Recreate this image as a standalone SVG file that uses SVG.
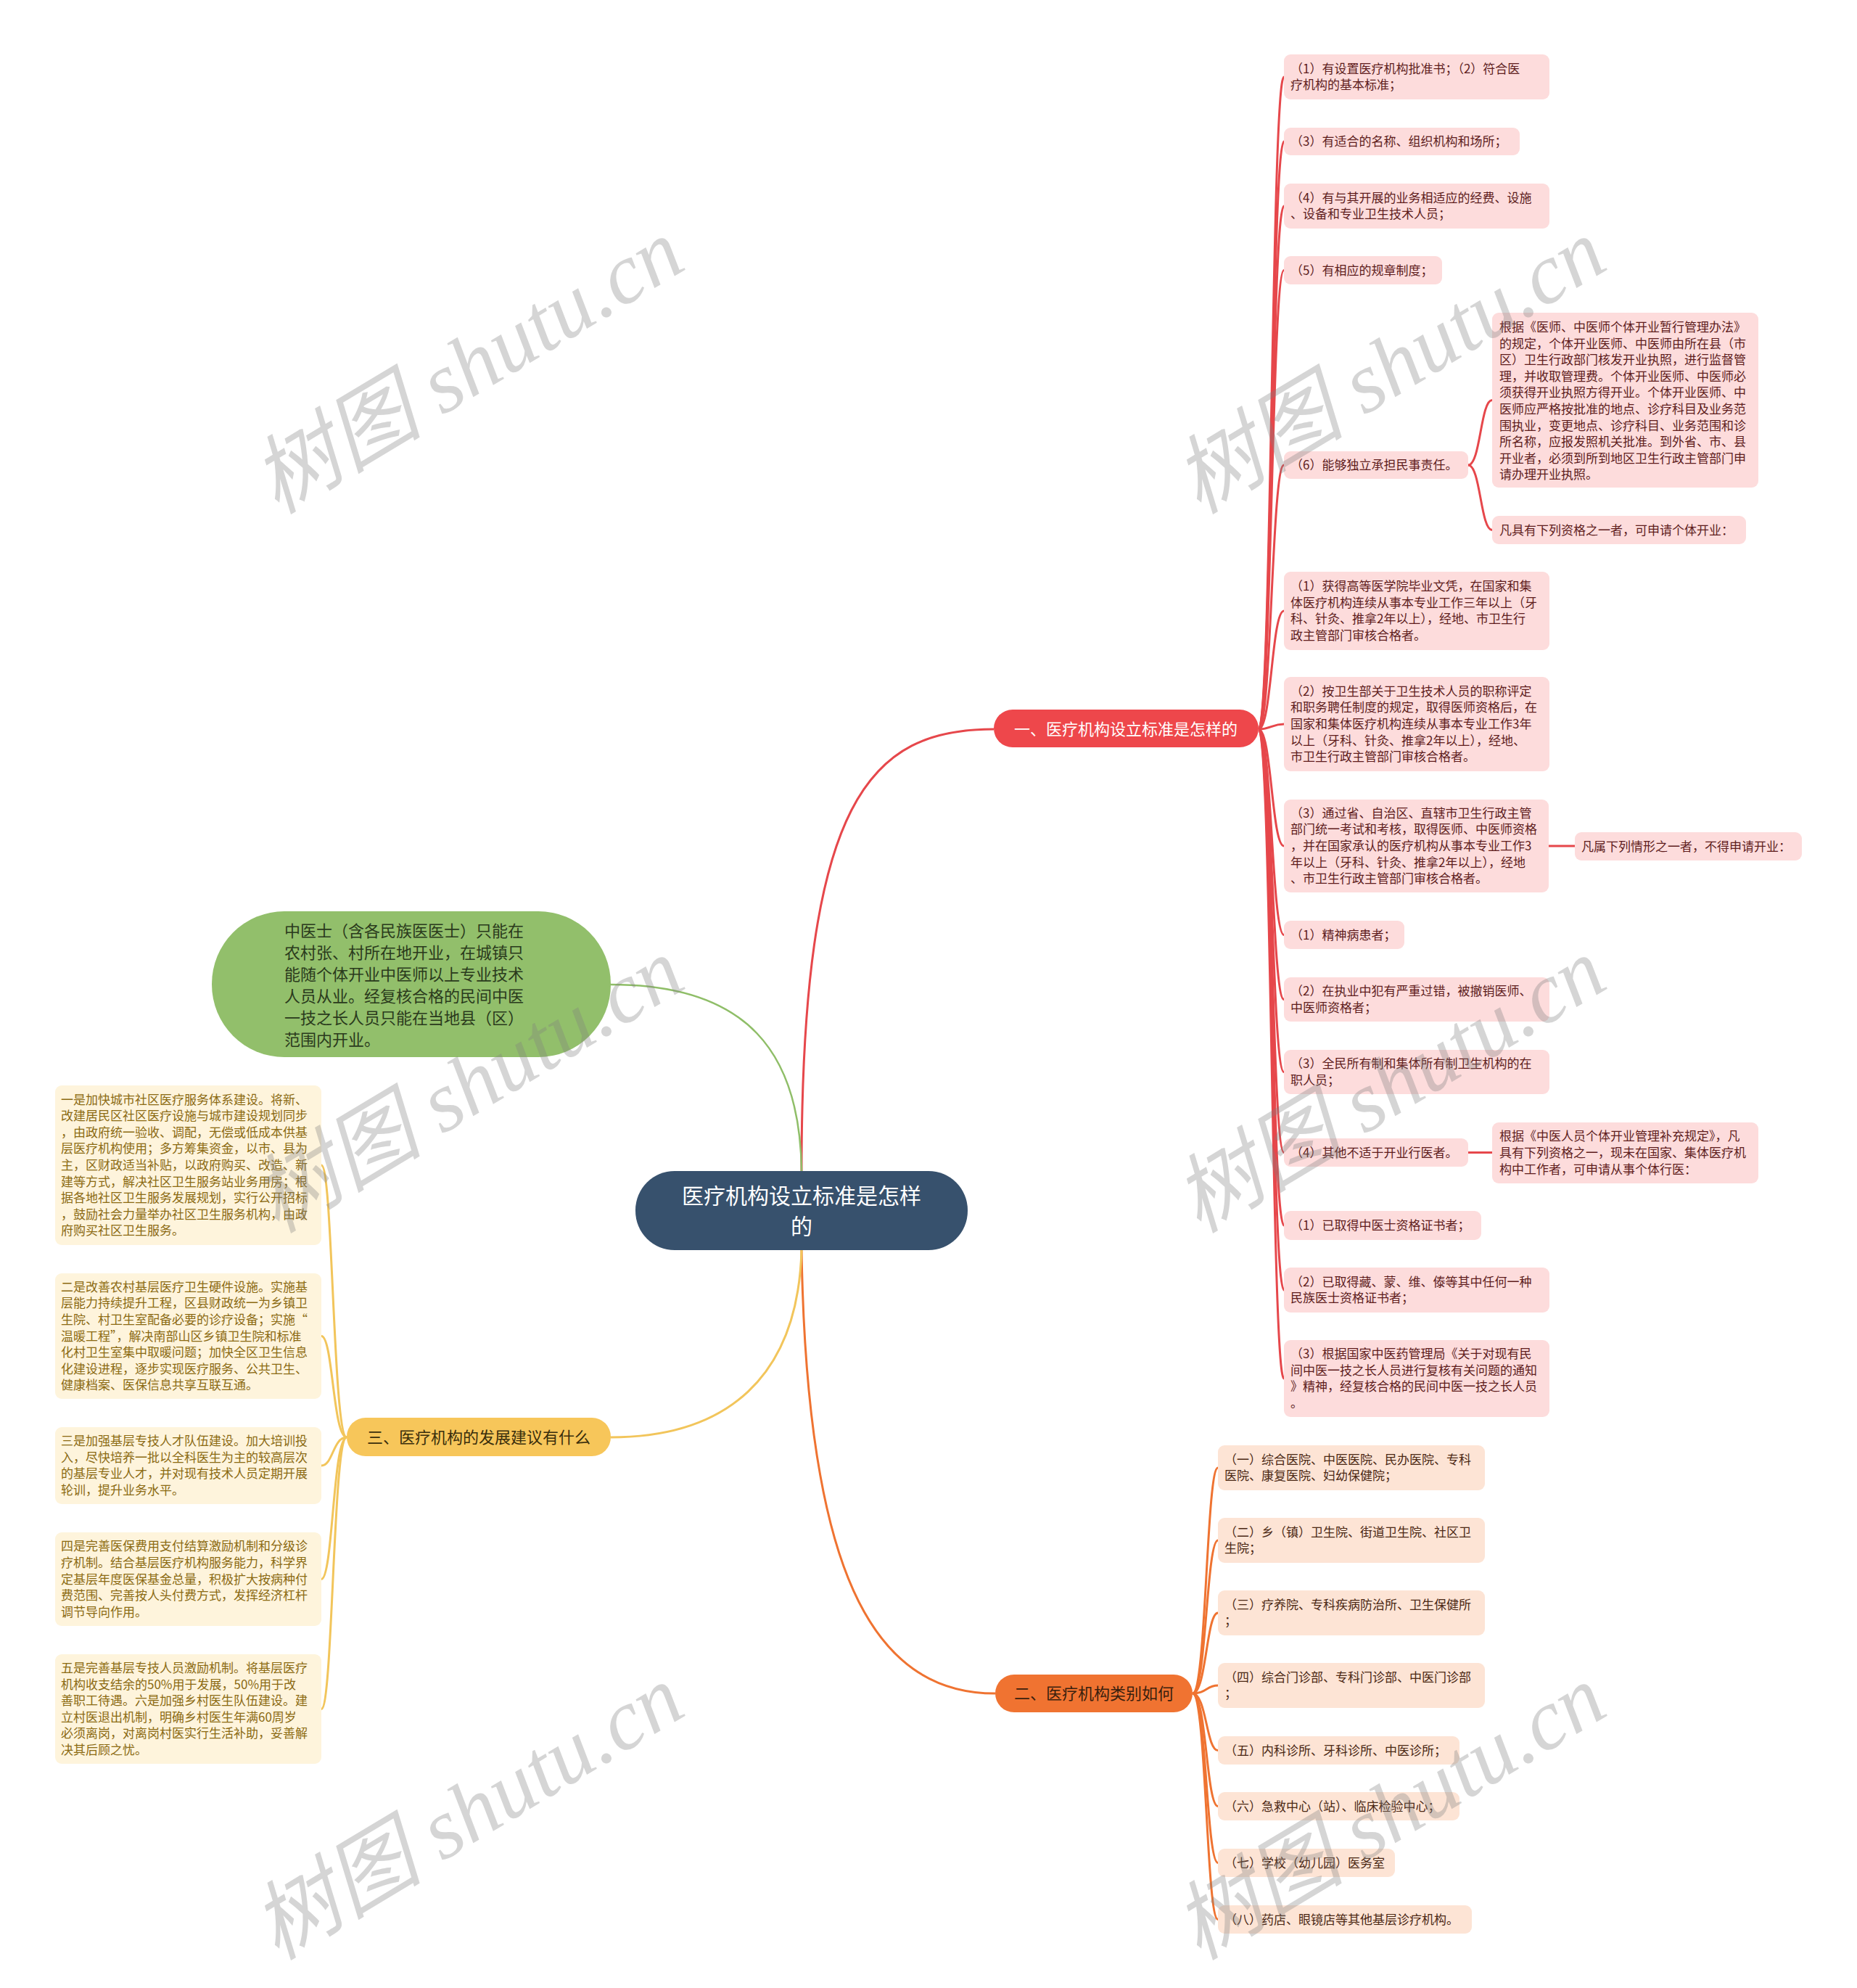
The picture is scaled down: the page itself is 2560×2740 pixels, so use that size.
<svg xmlns="http://www.w3.org/2000/svg" width="2560" height="2740" viewBox="0 0 2560 2740">
<style>
text{font-family:"Noto Sans CJK SC","Noto Sans",sans-serif}
.red rect{fill:#fddcdc}
.red text{fill:#5e1c1c;font-size:17px}
.org rect{fill:#fde4d5}
.org text{fill:#4b2814;font-size:17px}
.yel rect{fill:#fef4dc}
.yel text{fill:#8b6a12;font-size:17px}
.cr{fill:none;stroke:#e6474b;stroke-width:3}
.co{fill:none;stroke:#ef7331;stroke-width:3}
.cy{fill:none;stroke:#f2c55b;stroke-width:3}
.cg{fill:none;stroke:#8fbe68;stroke-width:2.5}
.wm{font-family:"Liberation Serif","Noto Sans CJK SC",serif;font-style:italic;font-size:118px;fill:#808080;fill-opacity:0.33}
</style>
<rect width="2560" height="2740" fill="#ffffff"/>

<g id="connectors">
  <path class="cr" d="M1105,1614 C1105,1100 1200,1005 1370,1005"/>
  <path class="cg" d="M842,1357 C1030,1357 1103,1450 1105,1614"/>
  <path class="co" d="M1105,1723 C1112,2160 1200,2334 1372,2334"/>
  <path class="cy" d="M842,1981 C1000,1981 1100,1900 1105,1723"/>
  <path class="cr" d="M1735,1005 C1753,1005 1753,106 1770,106"/>
  <path class="cr" d="M1735,1005 C1753,1005 1753,195 1770,195"/>
  <path class="cr" d="M1735,1005 C1753,1005 1753,284 1770,284"/>
  <path class="cr" d="M1735,1005 C1753,1005 1753,372.5 1770,372.5"/>
  <path class="cr" d="M1735,1005 C1753,1005 1753,641 1770,641"/>
  <path class="cr" d="M1735,1005 C1753,1005 1753,842 1770,842"/>
  <path class="cr" d="M1735,1005 C1753,1005 1753,998 1770,998"/>
  <path class="cr" d="M1735,1005 C1753,1005 1753,1166 1770,1166"/>
  <path class="cr" d="M1735,1005 C1753,1005 1753,1288.5 1770,1288.5"/>
  <path class="cr" d="M1735,1005 C1753,1005 1753,1377.5 1770,1377.5"/>
  <path class="cr" d="M1735,1005 C1753,1005 1753,1477.5 1770,1477.5"/>
  <path class="cr" d="M1735,1005 C1753,1005 1753,1588.5 1770,1588.5"/>
  <path class="cr" d="M1735,1005 C1753,1005 1753,1689 1770,1689"/>
  <path class="cr" d="M1735,1005 C1753,1005 1753,1778 1770,1778"/>
  <path class="cr" d="M1735,1005 C1753,1005 1753,1900 1770,1900"/>
  <path class="cr" d="M2024,641 C2041,641 2041,551.5 2057,551.5"/>
  <path class="cr" d="M2024,641 C2041,641 2041,730.5 2057,730.5"/>
  <path class="cr" d="M2135,1166 L2171,1166"/>
  <path class="cr" d="M2024,1588.5 L2057,1588.5"/>
  <path class="co" d="M1644,2334 C1663,2334 1663,2023 1679,2023"/>
  <path class="co" d="M1644,2334 C1663,2334 1663,2123 1679,2123"/>
  <path class="co" d="M1644,2334 C1663,2334 1663,2223 1679,2223"/>
  <path class="co" d="M1644,2334 C1663,2334 1663,2323 1679,2323"/>
  <path class="co" d="M1644,2334 C1663,2334 1663,2412.5 1679,2412.5"/>
  <path class="co" d="M1644,2334 C1663,2334 1663,2489.5 1679,2489.5"/>
  <path class="co" d="M1644,2334 C1663,2334 1663,2567.5 1679,2567.5"/>
  <path class="co" d="M1644,2334 C1663,2334 1663,2645.5 1679,2645.5"/>
  <path class="cy" d="M478,1981 C459,1981 459,1606 443,1606"/>
  <path class="cy" d="M478,1981 C459,1981 459,1841.5 443,1841.5"/>
  <path class="cy" d="M478,1981 C459,1981 459,2020 443,2020"/>
  <path class="cy" d="M478,1981 C459,1981 459,2176.5 443,2176.5"/>
  <path class="cy" d="M478,1981 C459,1981 459,2355.5 443,2355.5"/>
</g>

<g id="root">
  <rect x="876" y="1614" width="458" height="109" rx="54" fill="#37516d"/>
  <text x="1105" y="1659" text-anchor="middle" font-size="30" fill="#ffffff">医疗机构设立标准是怎样</text>
  <text x="1105" y="1701" text-anchor="middle" font-size="30" fill="#ffffff">的</text>
</g>

<g id="green-node">
  <rect x="292" y="1256" width="550" height="201" rx="100" fill="#92bf6b"/>
  <text font-size="22" fill="#2a3a1c">
    <tspan x="392" y="1291">中医士（含各民族医医士）只能在</tspan>
    <tspan x="392" dy="30">农村张、村所在地开业，在城镇只</tspan>
    <tspan x="392" dy="30">能随个体开业中医师以上专业技术</tspan>
    <tspan x="392" dy="30">人员从业。经复核合格的民间中医</tspan>
    <tspan x="392" dy="30">一技之长人员只能在当地县（区）</tspan>
    <tspan x="392" dy="30">范围内开业。</tspan>
  </text>
</g>

<g id="branch1">
  <rect x="1370" y="978" width="365" height="52" rx="26" fill="#ee474b"/>
  <text x="1552" y="1013" text-anchor="middle" font-size="22" fill="#ffffff">一、医疗机构设立标准是怎样的</text>
</g>

<g id="branch2">
  <rect x="1372" y="2308" width="272" height="52" rx="26" fill="#f07331"/>
  <text x="1508" y="2342" text-anchor="middle" font-size="22" fill="#3a1f0e">二、医疗机构类别如何</text>
</g>

<g id="branch3">
  <rect x="478" y="1954" width="364" height="53" rx="26" fill="#f7c65a"/>
  <text x="660" y="1989" text-anchor="middle" font-size="22" fill="#3a2e0c">三、医疗机构的发展建议有什么</text>
</g>

<g id="r1" class="red"><rect x="1770" y="75" width="366" height="62" rx="9"/>
  <text><tspan x="1779" y="100.7">（1）有设置医疗机构批准书；（2）符合医</tspan><tspan x="1779" dy="22.6">疗机构的基本标准；</tspan></text></g>
<g id="r2" class="red"><rect x="1770" y="176" width="325" height="38" rx="9"/>
  <text x="1779" y="201">（3）有适合的名称、组织机构和场所；</text></g>
<g id="r3" class="red"><rect x="1770" y="253" width="366" height="62" rx="9"/>
  <text><tspan x="1779" y="278.7">（4）有与其开展的业务相适应的经费、设施</tspan><tspan x="1779" dy="22.6">、设备和专业卫生技术人员；</tspan></text></g>
<g id="r4" class="red"><rect x="1770" y="353" width="218" height="39" rx="9"/>
  <text x="1779" y="378.5">（5）有相应的规章制度；</text></g>
<g id="r5" class="red"><rect x="1770" y="622" width="254" height="38" rx="9"/>
  <text x="1779" y="647">（6）能够独立承担民事责任。</text></g>
<g id="r5a" class="red"><rect x="2057" y="431" width="367" height="241" rx="9"/>
  <text><tspan x="2067" y="457">根据《医师、中医师个体开业暂行管理办法》</tspan><tspan x="2067" dy="22.6">的规定，个体开业医师、中医师由所在县（市</tspan><tspan x="2067" dy="22.6">区）卫生行政部门核发开业执照，进行监督管</tspan><tspan x="2067" dy="22.6">理，并收取管理费。个体开业医师、中医师必</tspan><tspan x="2067" dy="22.6">须获得开业执照方得开业。个体开业医师、中</tspan><tspan x="2067" dy="22.6">医师应严格按批准的地点、诊疗科目及业务范</tspan><tspan x="2067" dy="22.6">围执业，变更地点、诊疗科目、业务范围和诊</tspan><tspan x="2067" dy="22.6">所名称，应报发照机关批准。到外省、市、县</tspan><tspan x="2067" dy="22.6">开业者，必须到所到地区卫生行政主管部门申</tspan><tspan x="2067" dy="22.6">请办理开业执照。</tspan></text></g>
<g id="r5b" class="red"><rect x="2057" y="711" width="350" height="39" rx="9"/>
  <text x="2067" y="736.5">凡具有下列资格之一者，可申请个体开业：</text></g>
<g id="r6" class="red"><rect x="1770" y="788" width="366" height="108" rx="9"/>
  <text><tspan x="1779" y="814.1">（1）获得高等医学院毕业文凭，在国家和集</tspan><tspan x="1779" dy="22.6">体医疗机构连续从事本专业工作三年以上（牙</tspan><tspan x="1779" dy="22.6">科、针灸、推拿2年以上），经地、市卫生行</tspan><tspan x="1779" dy="22.6">政主管部门审核合格者。</tspan></text></g>
<g id="r7" class="red"><rect x="1770" y="933" width="366" height="130" rx="9"/>
  <text><tspan x="1779" y="958.8">（2）按卫生部关于卫生技术人员的职称评定</tspan><tspan x="1779" dy="22.6">和职务聘任制度的规定，取得医师资格后，在</tspan><tspan x="1779" dy="22.6">国家和集体医疗机构连续从事本专业工作3年</tspan><tspan x="1779" dy="22.6">以上（牙科、针灸、推拿2年以上），经地、</tspan><tspan x="1779" dy="22.6">市卫生行政主管部门审核合格者。</tspan></text></g>
<g id="r8" class="red"><rect x="1770" y="1102" width="365" height="128" rx="9"/>
  <text><tspan x="1779" y="1126.8">（3）通过省、自治区、直辖市卫生行政主管</tspan><tspan x="1779" dy="22.6">部门统一考试和考核，取得医师、中医师资格</tspan><tspan x="1779" dy="22.6">，并在国家承认的医疗机构从事本专业工作3</tspan><tspan x="1779" dy="22.6">年以上（牙科、针灸、推拿2年以上），经地</tspan><tspan x="1779" dy="22.6">、市卫生行政主管部门审核合格者。</tspan></text></g>
<g id="r8a" class="red"><rect x="2171" y="1147" width="313" height="39" rx="9"/>
  <text x="2180" y="1172.5">凡属下列情形之一者，不得申请开业：</text></g>
<g id="r9" class="red"><rect x="1770" y="1269" width="166" height="39" rx="9"/>
  <text x="1779" y="1294.5">（1）精神病患者；</text></g>
<g id="r10" class="red"><rect x="1770" y="1347" width="366" height="61" rx="9"/>
  <text><tspan x="1779" y="1372.2">（2）在执业中犯有严重过错，被撤销医师、</tspan><tspan x="1779" dy="22.6">中医师资格者；</tspan></text></g>
<g id="r11" class="red"><rect x="1770" y="1447" width="366" height="61" rx="9"/>
  <text><tspan x="1779" y="1472.2">（3）全民所有制和集体所有制卫生机构的在</tspan><tspan x="1779" dy="22.6">职人员；</tspan></text></g>
<g id="r12" class="red"><rect x="1770" y="1569" width="254" height="39" rx="9"/>
  <text x="1779" y="1594.5">（4）其他不适于开业行医者。</text></g>
<g id="r12a" class="red"><rect x="2057" y="1547" width="367" height="84" rx="9"/>
  <text><tspan x="2067" y="1572.4">根据《中医人员个体开业管理补充规定》，凡</tspan><tspan x="2067" dy="22.6">具有下列资格之一，现未在国家、集体医疗机</tspan><tspan x="2067" dy="22.6">构中工作者，可申请从事个体行医：</tspan></text></g>
<g id="r13" class="red"><rect x="1770" y="1669" width="272" height="40" rx="9"/>
  <text x="1779" y="1695">（1）已取得中医士资格证书者；</text></g>
<g id="r14" class="red"><rect x="1770" y="1747" width="366" height="62" rx="9"/>
  <text><tspan x="1779" y="1772.7">（2）已取得藏、蒙、维、傣等其中任何一种</tspan><tspan x="1779" dy="22.6">民族医士资格证书者；</tspan></text></g>
<g id="r15" class="red"><rect x="1770" y="1847" width="366" height="106" rx="9"/>
  <text><tspan x="1779" y="1872.1">（3）根据国家中医药管理局《关于对现有民</tspan><tspan x="1779" dy="22.6">间中医一技之长人员进行复核有关问题的通知</tspan><tspan x="1779" dy="22.6">》精神，经复核合格的民间中医一技之长人员</tspan><tspan x="1779" dy="22.6">。</tspan></text></g>

<g id="o1" class="org"><rect x="1679" y="1992" width="368" height="62" rx="9"/>
  <text><tspan x="1688" y="2017.7">（一）综合医院、中医医院、民办医院、专科</tspan><tspan x="1688" dy="22.6">医院、康复医院、妇幼保健院；</tspan></text></g>
<g id="o2" class="org"><rect x="1679" y="2092" width="368" height="62" rx="9"/>
  <text><tspan x="1688" y="2117.7">（二）乡（镇）卫生院、街道卫生院、社区卫</tspan><tspan x="1688" dy="22.6">生院；</tspan></text></g>
<g id="o3" class="org"><rect x="1679" y="2192" width="368" height="62" rx="9"/>
  <text><tspan x="1688" y="2217.7">（三）疗养院、专科疾病防治所、卫生保健所</tspan><tspan x="1688" dy="22.6">；</tspan></text></g>
<g id="o4" class="org"><rect x="1679" y="2292" width="368" height="62" rx="9"/>
  <text><tspan x="1688" y="2317.7">（四）综合门诊部、专科门诊部、中医门诊部</tspan><tspan x="1688" dy="22.6">；</tspan></text></g>
<g id="o5" class="org"><rect x="1679" y="2393" width="333" height="39" rx="9"/>
  <text x="1688" y="2418.5">（五）内科诊所、牙科诊所、中医诊所；</text></g>
<g id="o6" class="org"><rect x="1679" y="2470" width="333" height="39" rx="9"/>
  <text x="1688" y="2495.5">（六）急救中心（站）、临床检验中心；</text></g>
<g id="o7" class="org"><rect x="1679" y="2548" width="244" height="39" rx="9"/>
  <text x="1688" y="2573.5">（七）学校（幼儿园）医务室</text></g>
<g id="o8" class="org"><rect x="1679" y="2626" width="350" height="39" rx="9"/>
  <text x="1688" y="2651.5">（八）药店、眼镜店等其他基层诊疗机构。</text></g>

<g id="y1" class="yel"><rect x="76" y="1496" width="367" height="220" rx="9"/>
  <text><tspan x="84" y="1521.6">一是加快城市社区医疗服务体系建设。将新、</tspan><tspan x="84" dy="22.6">改建居民区社区医疗设施与城市建设规划同步</tspan><tspan x="84" dy="22.6">，由政府统一验收、调配，无偿或低成本供基</tspan><tspan x="84" dy="22.6">层医疗机构使用；多方筹集资金，以市、县为</tspan><tspan x="84" dy="22.6">主，区财政适当补贴，以政府购买、改造、新</tspan><tspan x="84" dy="22.6">建等方式，解决社区卫生服务站业务用房；根</tspan><tspan x="84" dy="22.6">据各地社区卫生服务发展规划，实行公开招标</tspan><tspan x="84" dy="22.6">，鼓励社会力量举办社区卫生服务机构，由政</tspan><tspan x="84" dy="22.6">府购买社区卫生服务。</tspan></text></g>
<g id="y2" class="yel"><rect x="76" y="1755" width="367" height="173" rx="9"/>
  <text><tspan x="84" y="1779.7">二是改善农村基层医疗卫生硬件设施。实施基</tspan><tspan x="84" dy="22.6">层能力持续提升工程，区县财政统一为乡镇卫</tspan><tspan x="84" dy="22.6">生院、村卫生室配备必要的诊疗设备；实施“</tspan><tspan x="84" dy="22.6">温暖工程”，解决南部山区乡镇卫生院和标准</tspan><tspan x="84" dy="22.6">化村卫生室集中取暖问题；加快全区卫生信息</tspan><tspan x="84" dy="22.6">化建设进程，逐步实现医疗服务、公共卫生、</tspan><tspan x="84" dy="22.6">健康档案、医保信息共享互联互通。</tspan></text></g>
<g id="y3" class="yel"><rect x="76" y="1967" width="367" height="106" rx="9"/>
  <text><tspan x="84" y="1992.1">三是加强基层专技人才队伍建设。加大培训投</tspan><tspan x="84" dy="22.6">入，尽快培养一批以全科医生为主的较高层次</tspan><tspan x="84" dy="22.6">的基层专业人才，并对现有技术人员定期开展</tspan><tspan x="84" dy="22.6">轮训，提升业务水平。</tspan></text></g>
<g id="y4" class="yel"><rect x="76" y="2112" width="367" height="129" rx="9"/>
  <text><tspan x="84" y="2137.3">四是完善医保费用支付结算激励机制和分级诊</tspan><tspan x="84" dy="22.6">疗机制。结合基层医疗机构服务能力，科学界</tspan><tspan x="84" dy="22.6">定基层年度医保基金总量，积极扩大按病种付</tspan><tspan x="84" dy="22.6">费范围、完善按人头付费方式，发挥经济杠杆</tspan><tspan x="84" dy="22.6">调节导向作用。</tspan></text></g>
<g id="y5" class="yel"><rect x="76" y="2280" width="367" height="151" rx="9"/>
  <text><tspan x="84" y="2305">五是完善基层专技人员激励机制。将基层医疗</tspan><tspan x="84" dy="22.6">机构收支结余的50%用于发展，50%用于改</tspan><tspan x="84" dy="22.6">善职工待遇。六是加强乡村医生队伍建设。建</tspan><tspan x="84" dy="22.6">立村医退出机制，明确乡村医生年满60周岁</tspan><tspan x="84" dy="22.6">必须离岗，对离岗村医实行生活补助，妥善解</tspan><tspan x="84" dy="22.6">决其后顾之忧。</tspan></text></g>

<g id="watermarks">
  <text class="wm" transform="translate(645,505) rotate(-31)" x="0" y="40" text-anchor="middle">树图 shutu.cn</text>
  <text class="wm" transform="translate(1916,505) rotate(-31)" x="0" y="40" text-anchor="middle">树图 shutu.cn</text>
  <text class="wm" transform="translate(645,1496) rotate(-31)" x="0" y="40" text-anchor="middle">树图 shutu.cn</text>
  <text class="wm" transform="translate(1916,1496) rotate(-31)" x="0" y="40" text-anchor="middle">树图 shutu.cn</text>
  <text class="wm" transform="translate(645,2498) rotate(-31)" x="0" y="40" text-anchor="middle">树图 shutu.cn</text>
  <text class="wm" transform="translate(1916,2498) rotate(-31)" x="0" y="40" text-anchor="middle">树图 shutu.cn</text>
</g>
</svg>
